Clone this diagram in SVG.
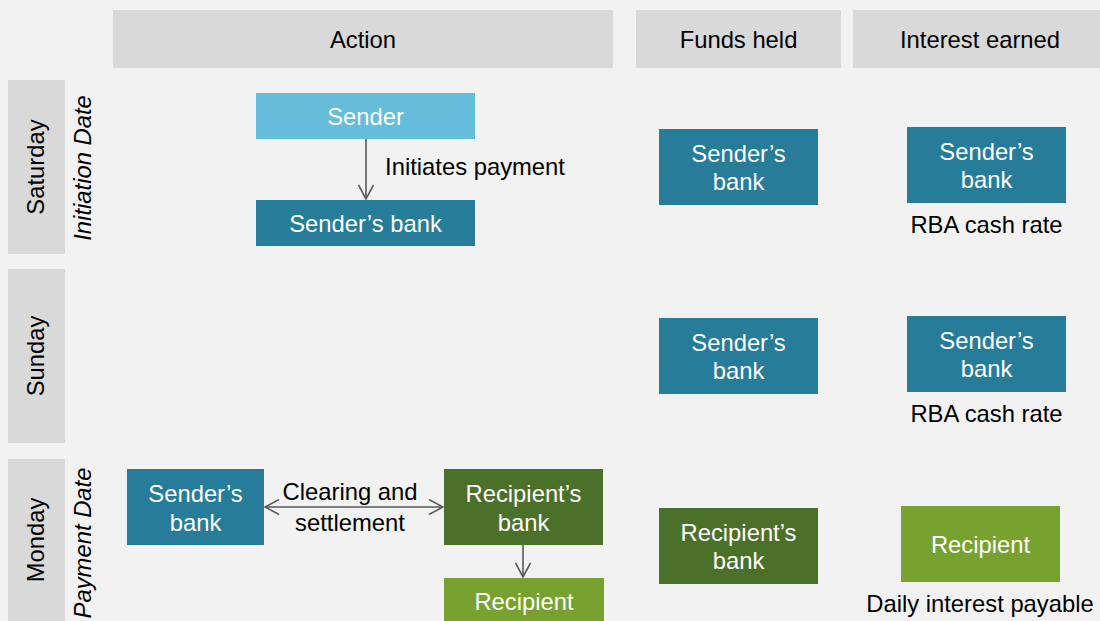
<svg xmlns="http://www.w3.org/2000/svg" width="1100" height="621" viewBox="0 0 1100 621">
<defs>
<style>
.hd{fill:#d9d9d9}
.t{font-family:"Liberation Sans",Arial,sans-serif;font-size:23.8px;text-anchor:middle}
.dk{fill:#000}
.w{fill:#fff}
.it{font-style:italic}
.teal{fill:#267c99}
.lb{fill:#65bcdb}
.dg{fill:#4b7029}
.lg{fill:#78a22f}
.c{stroke:#595959;stroke-width:1.6;fill:none}
</style>
<marker id="ah" viewBox="0 0 16 16" refX="15" refY="8" markerWidth="16" markerHeight="16" markerUnits="userSpaceOnUse" orient="auto-start-reverse">
<path d="M1,0.5 L15,8 L1,15.5" fill="none" stroke="#595959" stroke-width="1.6"/>
</marker>
</defs>
<rect width="1100" height="621" fill="#f2f2f2"/>
<g id="headers">
<rect class="hd" x="113" y="10" width="500" height="58"/>
<text class="t dk" x="363" y="47.5">Action</text>
<rect class="hd" x="636" y="10" width="205" height="58"/>
<text class="t dk" x="738.5" y="47.5">Funds held</text>
<rect class="hd" x="853" y="10" width="260" height="58"/>
<text class="t dk" x="980" y="47.5">Interest earned</text>
</g>
<g id="rows">
<rect class="hd" x="8" y="80" width="57" height="174"/>
<text class="t dk" transform="translate(44,167) rotate(-90)">Saturday</text>
<text class="t dk it" transform="translate(91,168) rotate(-90)">Initiation Date</text>
<rect class="hd" x="8" y="269" width="57" height="174"/>
<text class="t dk" transform="translate(44,356) rotate(-90)">Sunday</text>
<rect class="hd" x="8" y="459" width="57" height="170"/>
<text class="t dk" transform="translate(44,540) rotate(-90)">Monday</text>
<text class="t dk it" transform="translate(91,543) rotate(-90)">Payment Date</text>
</g>
<g id="sender">
<rect class="lb" x="256" y="93" width="219" height="46"/>
<text class="t w" x="365.5" y="124.5">Sender</text>
</g>
<g id="sat-senders-bank">
<rect class="teal" x="256" y="200" width="219" height="46"/>
<text class="t w" x="365.5" y="231.5">Sender’s bank</text>
</g>
<g id="sat-funds">
<rect class="teal" x="659" y="129" width="159" height="76"/>
<text class="t w" x="738.5" y="162">Sender’s</text>
<text class="t w" x="738.5" y="190">bank</text>
</g>
<g id="sat-interest">
<rect class="teal" x="907" y="127" width="159" height="76"/>
<text class="t w" x="986.5" y="160">Sender’s</text>
<text class="t w" x="986.5" y="188">bank</text>
<text class="t dk" x="986.5" y="233">RBA cash rate</text>
</g>
<g id="sun-funds">
<rect class="teal" x="659" y="318" width="159" height="76"/>
<text class="t w" x="738.5" y="351">Sender’s</text>
<text class="t w" x="738.5" y="379">bank</text>
</g>
<g id="sun-interest">
<rect class="teal" x="907" y="316" width="159" height="76"/>
<text class="t w" x="986.5" y="349">Sender’s</text>
<text class="t w" x="986.5" y="377">bank</text>
<text class="t dk" x="986.5" y="422">RBA cash rate</text>
</g>
<g id="mon-senders-bank">
<rect class="teal" x="127" y="469" width="137" height="76"/>
<text class="t w" x="195.5" y="502">Sender’s</text>
<text class="t w" x="195.5" y="530.5">bank</text>
</g>
<g id="mon-recipients-bank">
<rect class="dg" x="444" y="469" width="159" height="76"/>
<text class="t w" x="523.5" y="502">Recipient’s</text>
<text class="t w" x="523.5" y="530.5">bank</text>
</g>
<g id="mon-recipient">
<rect class="lg" x="444" y="578" width="160" height="50"/>
<text class="t w" x="524" y="610">Recipient</text>
</g>
<g id="mon-funds">
<rect class="dg" x="659" y="508" width="159" height="76"/>
<text class="t w" x="738.5" y="541">Recipient’s</text>
<text class="t w" x="738.5" y="569">bank</text>
</g>
<g id="mon-interest">
<rect class="lg" x="901" y="506" width="159" height="76"/>
<text class="t w" x="980.5" y="553">Recipient</text>
<text class="t dk" x="980" y="612">Daily interest payable</text>
</g>
<g id="connectors">
<line class="c" x1="366" y1="139" x2="366" y2="199" marker-end="url(#ah)"/>
<text class="t dk" x="475" y="175">Initiates payment</text>
<line class="c" x1="265" y1="507" x2="443" y2="507" marker-start="url(#ah)" marker-end="url(#ah)"/>
<text class="t dk" x="350" y="500">Clearing and</text>
<text class="t dk" x="350" y="531">settlement</text>
<line class="c" x1="523" y1="545" x2="523" y2="577" marker-end="url(#ah)"/>
</g>
</svg>
